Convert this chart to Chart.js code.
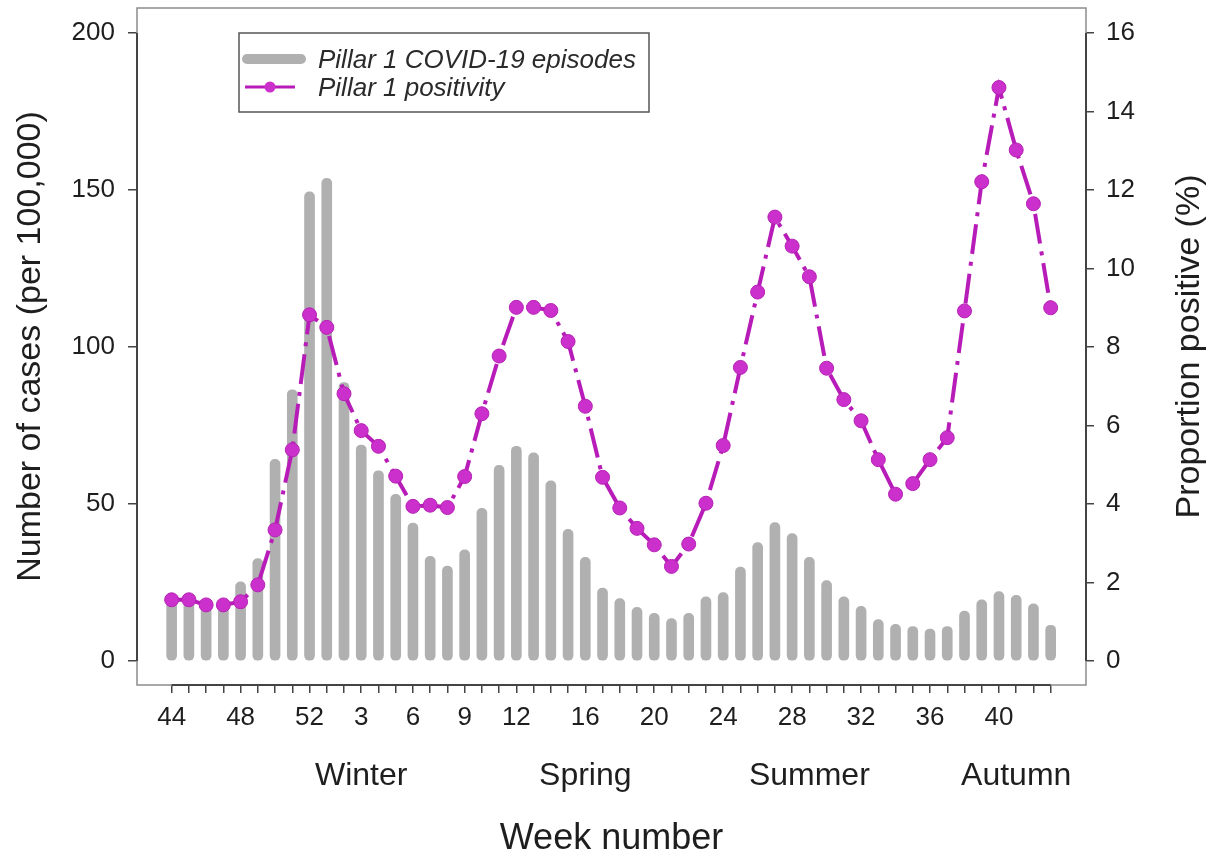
<!DOCTYPE html>
<html>
<head>
<meta charset="utf-8">
<script src="https://cdn.jsdelivr.net/npm/chart.js@4.4.0/dist/chart.umd.min.js"></script>
<style>
html, body { margin: 0; padding: 0; background: #fff; }
#wrap { width: 1219px; height: 857px; }
</style>
</head>
<body>
<div id="wrap"><canvas id="chart" width="1219" height="857"></canvas></div>
<script>
'use strict';

// week numbers, Nov 2020 -> Oct 2021
var weeks = [44, 45, 46, 47, 48, 49, 50, 51, 52,
  1, 2, 3, 4, 5, 6, 7, 8, 9, 10, 11, 12, 13, 14, 15, 16, 17,
  18, 19, 20, 21, 22, 23, 24, 25, 26, 27, 28, 29, 30, 31, 32, 33, 34, 35, 36, 37, 38, 39, 40, 41, 42, 43];

// Pillar 1 episodes per 100,000
var cases = [19, 19.5, 17.4, 17.6, 25.2, 32.6, 64.2, 86.4, 149.4,
  153.7, 88.7, 68.8, 60.6, 53.1, 43.9, 33.3, 30.2, 35.4, 48.6, 62.3, 68.4, 66.3, 57.4, 41.9, 33.0, 23.2,
  19.9, 17.1, 15.2, 13.5, 15.2, 20.4, 21.8, 29.9, 37.7, 44.1, 40.6, 33.0, 25.6, 20.4, 17.4, 13.2, 11.7,
  11.0, 10.2, 11.0, 15.9, 19.5, 22.1, 20.9, 18.2, 11.4];

// Pillar 1 positivity (%)
var positivity = [1.56, 1.56, 1.43, 1.43, 1.51, 1.94, 3.34, 5.38, 8.82,
  8.50, 6.81, 5.87, 5.47, 4.71, 3.94, 3.97, 3.91, 4.70, 6.30, 7.77, 9.01, 9.01, 8.93, 8.14, 6.49, 4.68,
  3.90, 3.38, 2.96, 2.41, 2.98, 4.02, 5.49, 7.48, 9.40, 11.31, 10.57, 9.79, 7.46, 6.66, 6.12, 5.13, 4.25,
  4.52, 5.13, 5.69, 8.92, 12.21, 14.61, 13.02, 11.65, 9.00];

var tickWeeks = [44, 48, 52, 3, 6, 9, 12, 16, 20, 24, 28, 32, 36, 40];
var yTicks = [0, 50, 100, 150, 200];
var y2Ticks = [0, 2, 4, 6, 8, 10, 12, 14, 16];
var seasons = ['Winter', 'Spring', 'Summer', 'Autumn'];
var seasonAt = [11, 24, 37, 49]; // position along the week axis

var FONT = "'Liberation Sans', Arial, sans-serif";
var TEXT = '#1e1e1e';
Chart.defaults.font.family = FONT;
Chart.defaults.color = TEXT;

var barData = [];
var lineData = [];
for (var i = 0; i < weeks.length; i++) {
  barData.push({ x: i, y: cases[i] });
  lineData.push({ x: i, y: positivity[i] });
}

var xMin = -2.01, xMax = 53.05;

function noPad(s) {
  s.paddingTop = 0;
  s.paddingBottom = 0;
  s.paddingLeft = 0;
  s.paddingRight = 0;
}

var framePlugin = {
  id: 'frame',
  afterDraw: function(chart) {
    var ctx = chart.ctx;
    var a = chart.chartArea;
    var x = chart.scales.x, y = chart.scales.y, y2 = chart.scales.y2;
    ctx.save();
    // box
    ctx.strokeStyle = '#8c8c8c';
    ctx.lineWidth = 1.5;
    ctx.strokeRect(a.left, a.top, a.right - a.left, a.bottom - a.top);
    // axis lines
    ctx.strokeStyle = '#444';
    ctx.lineWidth = 2;
    ctx.beginPath();
    ctx.moveTo(a.left, y.getPixelForValue(yTicks[0]));
    ctx.lineTo(a.left, y.getPixelForValue(yTicks[yTicks.length - 1]));
    ctx.moveTo(a.right, y2.getPixelForValue(y2Ticks[0]));
    ctx.lineTo(a.right, y2.getPixelForValue(y2Ticks[y2Ticks.length - 1]));
    ctx.moveTo(x.getPixelForValue(0), a.bottom);
    ctx.lineTo(x.getPixelForValue(weeks.length - 1), a.bottom);
    ctx.stroke();

    // legend
    var lx = 239, ly = 33, lw = 410, lh = 79;
    ctx.fillStyle = '#fff';
    ctx.fillRect(lx, ly, lw, lh);
    ctx.strokeStyle = '#555';
    ctx.lineWidth = 1.5;
    ctx.strokeRect(lx, ly, lw, lh);
    ctx.lineCap = 'round';
    ctx.strokeStyle = '#b0b0b0';
    ctx.lineWidth = 10;
    ctx.beginPath();
    ctx.moveTo(lx + 8, ly + 26);
    ctx.lineTo(lx + 62, ly + 26);
    ctx.stroke();
    ctx.lineCap = 'butt';
    ctx.strokeStyle = '#b81cb8';
    ctx.lineWidth = 3;
    ctx.beginPath();
    ctx.moveTo(lx + 6, ly + 54);
    ctx.lineTo(lx + 56, ly + 54);
    ctx.stroke();
    ctx.fillStyle = '#cc30cc';
    ctx.beginPath();
    ctx.arc(lx + 31, ly + 54, 5.5, 0, Math.PI * 2);
    ctx.fill();
    ctx.fillStyle = '#2a2a2a';
    ctx.font = 'italic 26px ' + FONT;
    ctx.textAlign = 'left';
    ctx.textBaseline = 'middle';
    ctx.fillText(chart.data.datasets[0].label, lx + 79, ly + 28);
    ctx.fillText(chart.data.datasets[1].label, lx + 79, ly + 56);

    // right axis title (reads bottom to top)
    ctx.translate(1190, (a.top + a.bottom) / 2);
    ctx.rotate(-Math.PI / 2);
    ctx.fillStyle = TEXT;
    ctx.font = '34px ' + FONT;
    ctx.textAlign = 'center';
    ctx.fillText('Proportion positive (%)', 0, 0);
    ctx.restore();
  }
};

var ctx = document.getElementById('chart').getContext('2d');
var chart = new Chart(ctx, {
  data: {
    datasets: [
      {
        type: 'bar',
        label: 'Pillar 1 COVID-19 episodes',
        data: barData,
        xAxisID: 'x',
        yAxisID: 'y',
        backgroundColor: '#b0b0b0',
        barThickness: 10,
        borderRadius: 5,
        borderSkipped: false,
        order: 1
      },
      {
        type: 'line',
        label: 'Pillar 1 positivity',
        data: lineData,
        xAxisID: 'x',
        yAxisID: 'y2',
        borderColor: '#b81cb8',
        borderWidth: 4,
        borderDash: [30, 8, 4, 8],
        tension: 0,
        pointRadius: 7,
        pointBackgroundColor: '#cc30cc',
        pointBorderColor: '#b421b4',
        pointBorderWidth: 1,
        order: 0
      }
    ]
  },
  options: {
    responsive: false,
    animation: false,
    devicePixelRatio: 1,
    layout: { padding: { top: 8, left: 0, right: 0, bottom: 0 }, autoPadding: false },
    plugins: { legend: { display: false }, tooltip: { enabled: false } },
    scales: {
      x: {
        type: 'linear',
        position: 'bottom',
        offset: false,
        min: xMin,
        max: xMax,
        afterBuildTicks: function(s) { s.ticks = weeks.map(function(w, i) { return { value: i }; }); },
        afterFit: function(s) { s.height = 50; noPad(s); },
        grid: { display: true, offset: false, drawOnChartArea: false, drawTicks: true, tickLength: 8, color: '#444', lineWidth: 1.5 },
        border: { display: false },
        ticks: {
          autoSkip: false, maxRotation: 0, padding: 9, font: { size: 26 }, color: TEXT,
          callback: function(v) {
            var w = weeks[v];
            return tickWeeks.indexOf(w) >= 0 ? String(w) : '';
          }
        }
      },
      x2: {
        type: 'linear',
        position: 'bottom',
        offset: false,
        min: xMin,
        max: xMax,
        afterBuildTicks: function(s) { s.ticks = seasonAt.map(function(v) { return { value: v }; }); },
        afterFit: function(s) { s.height = 122; noPad(s); },
        grid: { display: false, offset: false, drawTicks: false },
        border: { display: false },
        ticks: {
          autoSkip: false, maxRotation: 0, padding: 22, font: { size: 32 }, color: TEXT,
          callback: function(v, i) { return seasons[i]; }
        },
        title: { display: true, text: 'Week number', font: { size: 36, lineHeight: 1 }, padding: { top: 0, bottom: 0 }, color: TEXT }
      },
      y: {
        position: 'left',
        min: -7.64,
        max: 207.96,
        afterBuildTicks: function(s) { s.ticks = yTicks.map(function(v) { return { value: v }; }); },
        afterFit: function(s) { s.width = 137; noPad(s); },
        grid: { drawOnChartArea: false, tickLength: 9, color: '#444', lineWidth: 1.5 },
        border: { display: false },
        ticks: { padding: 13, font: { size: 26 }, color: TEXT },
        title: { display: true, text: 'Number of cases (per 100,000)', font: { size: 34 }, padding: { top: 10 }, color: TEXT }
      },
      y2: {
        position: 'right',
        min: -0.611,
        max: 16.637,
        afterBuildTicks: function(s) { s.ticks = y2Ticks.map(function(v) { return { value: v }; }); },
        afterFit: function(s) { s.width = 133; noPad(s); },
        grid: { drawOnChartArea: false, tickLength: 8, color: '#444', lineWidth: 1.5 },
        border: { display: false },
        ticks: { padding: 12, font: { size: 26 }, color: TEXT }
      }
    }
  },
  plugins: [framePlugin]
});
</script>
</body>
</html>
